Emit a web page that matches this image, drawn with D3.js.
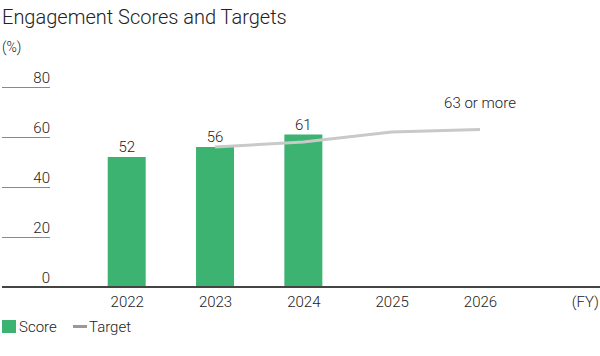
<!DOCTYPE html>
<html>
<head>
<meta charset="utf-8">
<script src="https://cdn.jsdelivr.net/npm/d3@7"></script>
<style>
  html, body { margin: 0; padding: 0; background: #fff; }
  svg { display: block; font-family: Roboto, "Noto Sans", sans-serif; font-weight: 300; }
</style>
</head>
<body>
<svg id="chart" width="600" height="356"></svg>
<script>
// ---- data ----
const years = ["2022", "2023", "2024", "2025", "2026"];
const scoreYears = ["2022", "2023", "2024"];
const scores = [52, 56, 61];
const targetYears = ["2023", "2024", "2025", "2026"];
const targets = [56, 58, 62, 63];
const yTicks = [0, 20, 40, 60, 80];
const targetLabel = "63 or more";
const title = "Engagement Scores and Targets";
const unitLabel = "(%)";
const fyLabel = "(FY)";
const legendLabels = ["Score", "Target"];

// ---- styles ----
const green = "#3cb371";
const lineGray = "#c9c9c9";
const textColor = "#222";

const svg = d3.select("#chart");

const x = d3.scalePoint().domain(years).range([126.7, 480]);
const barW = x.step() * 0.43;
const y = d3.scaleLinear().domain([0, 80]).range([287, 87]);

// title
svg.append("text").attr("x", 2).attr("y", 24)
  .attr("font-size", 20).attr("fill", textColor).text(title);
svg.append("text").attr("x", 2).attr("y", 52)
  .attr("font-size", 14).attr("fill", textColor).text(unitLabel);

// y grid ticks (short lines on left)
const yAxis = d3.axisLeft(y).tickValues(yTicks.filter(d => d > 0)).tickSize(48).tickFormat("");
const ga = svg.append("g").attr("transform", "translate(50,0)").call(yAxis);
ga.select(".domain").remove();
ga.selectAll(".tick line").attr("stroke", "#8a8a8a").attr("stroke-width", 1);

svg.selectAll("text.ytick").data(yTicks).join("text")
  .attr("class", "ytick")
  .attr("x", 50).attr("y", d => y(d) - 4)
  .attr("text-anchor", "end").attr("font-size", 15).attr("fill", textColor)
  .text(d => d);

// bars
const barData = scoreYears.map((yr, i) => ({ yr, v: scores[i] }));
svg.selectAll("rect.bar").data(barData).join("rect")
  .attr("class", "bar")
  .attr("x", d => x(d.yr) - barW / 2)
  .attr("y", d => y(d.v))
  .attr("width", barW)
  .attr("height", d => y(0) - y(d.v))
  .attr("fill", green);

svg.selectAll("text.barlabel").data(barData).join("text")
  .attr("class", "barlabel")
  .attr("x", d => x(d.yr)).attr("y", d => y(d.v) - 5)
  .attr("text-anchor", "middle").attr("font-size", 15).attr("fill", textColor)
  .text(d => d.v);

// x axis
const xAxis = d3.axisBottom(x).tickSize(0).tickPadding(0);
const gx = svg.append("g").attr("transform", `translate(0,${y(0)})`).call(xAxis);
gx.select(".domain").remove();
gx.selectAll(".tick text").attr("font-size", 15).attr("fill", textColor)
  .attr("font-family", "Roboto, 'Noto Sans', sans-serif")
  .attr("dy", 0).attr("y", 20);
svg.append("line").attr("x1", 2).attr("x2", 600)
  .attr("y1", y(0)).attr("y2", y(0))
  .attr("stroke", "#444").attr("stroke-width", 2);
svg.append("text").attr("x", 599).attr("y", y(0) + 20)
  .attr("text-anchor", "end").attr("font-size", 15).attr("fill", textColor).text(fyLabel);

// target line
const lineData = targetYears.map((yr, i) => ({ yr, v: targets[i] }));
svg.append("path").datum(lineData)
  .attr("fill", "none").attr("stroke", lineGray).attr("stroke-width", 3)
  .attr("d", d3.line().x(d => x(d.yr)).y(d => y(d.v)));

svg.append("text").attr("x", x("2026")).attr("y", 108)
  .attr("text-anchor", "middle").attr("font-size", 15).attr("fill", textColor)
  .text(targetLabel);

// legend
svg.append("rect").attr("x", 2).attr("y", 320).attr("width", 14).attr("height", 13).attr("fill", green);
svg.append("text").attr("x", 19).attr("y", 332).attr("font-size", 15).attr("fill", textColor).text(legendLabels[0]);
svg.append("line").attr("x1", 73).attr("x2", 87).attr("y1", 326.5).attr("y2", 326.5)
  .attr("stroke", "#999").attr("stroke-width", 3);
svg.append("text").attr("x", 89).attr("y", 332).attr("font-size", 15).attr("fill", textColor).text(legendLabels[1]);
</script>
</body>
</html>
